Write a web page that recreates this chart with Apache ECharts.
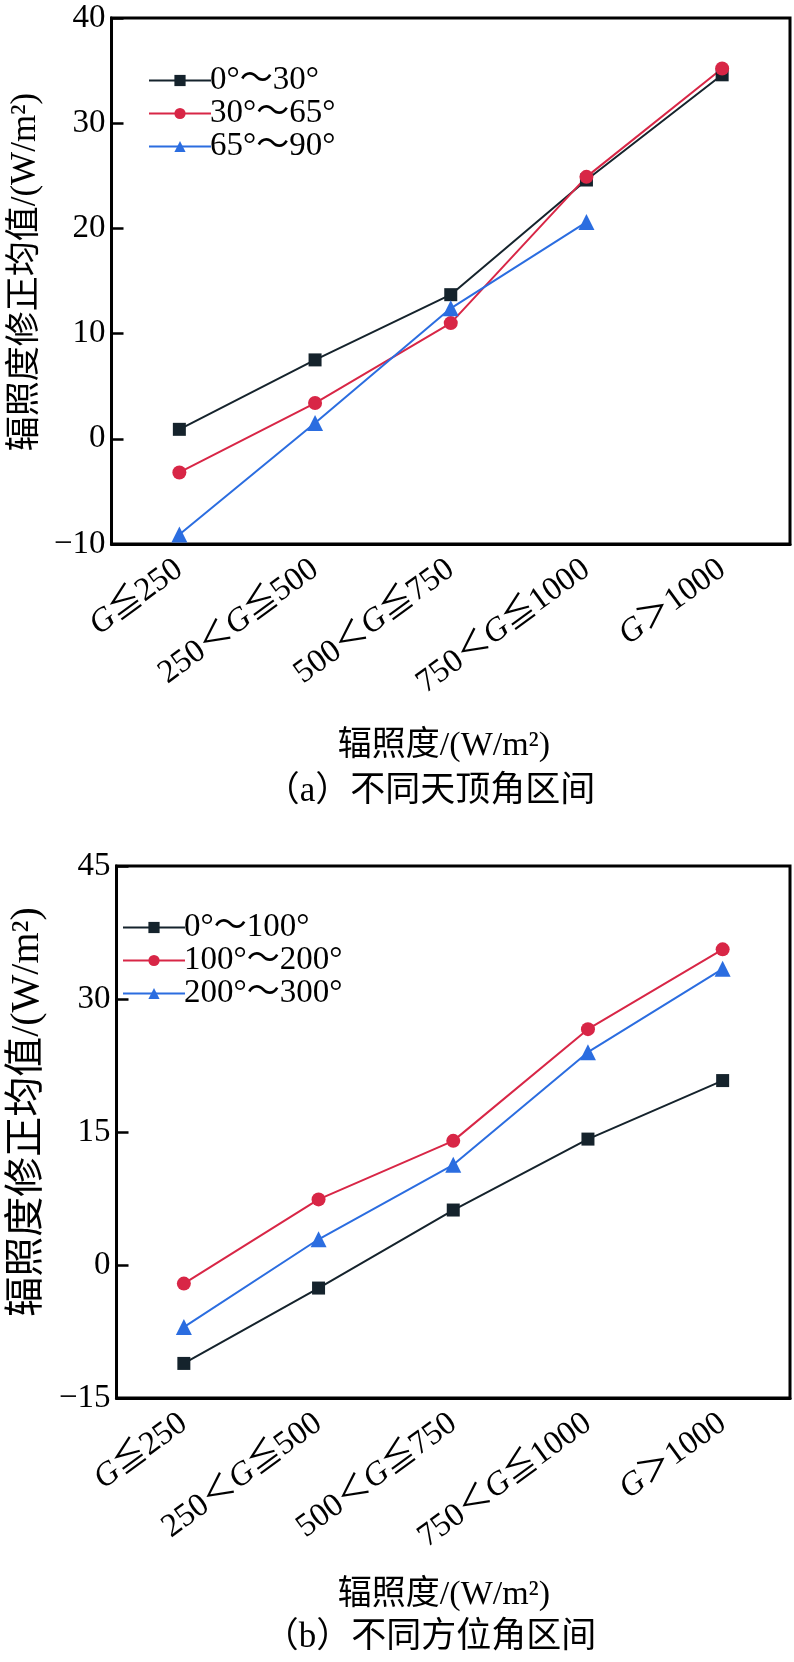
<!DOCTYPE html>
<html>
<head>
<meta charset="utf-8">
<script src="https://cdn.jsdelivr.net/npm/echarts@6/dist/echarts.min.js"></script>
<style>
html,body{margin:0;padding:0;background:#fff;}
#chart{width:794px;height:1662px;}
</style>
</head>
<body>
<div id="chart"></div>
<script>
// Categories (irradiance bins)
const categories = ['{i|G}≦250', '250＜{i|G}≦500', '500＜{i|G}≦750', '750＜{i|G}≦1000', '{i|G}＞1000'];

// (a) zenith angle intervals
const zenithNames = ['0°～30°', '30°～65°', '65°～90°'];
const zenith0_30 = [0.9, 7.5, 13.7, 24.6, 34.6];
const zenith30_65 = [-3.2, 3.4, 11.0, 24.9, 35.2];
const zenith65_90 = [-9.1, 1.5, 12.4, 20.6, null];

// (b) azimuth angle intervals
const azimuthNames = ['0°～100°', '100°～200°', '200°～300°'];
const azimuth0_100 = [-11.1, -2.6, 6.2, 14.2, 20.8];
const azimuth100_200 = [-2.1, 7.4, 14.0, 26.6, 35.6];
const azimuth200_300 = [-7.0, 2.9, 11.3, 24.0, 33.4];

// Axis ticks
const yTicksA = [-10, 0, 10, 20, 30, 40];
const yTicksB = [-15, 0, 15, 30, 45];

const xName = '辐照度/(W/m²)';
const yName = '辐照度修正均值/(W/m²)';
const captionA = '（a）不同天顶角区间';
const captionB = '（b）不同方位角区间';

const FONT = "'Liberation Serif', 'Times New Roman', 'Noto Sans CJK SC', serif";
const COLORS = ['#15232c', '#d82646', '#2b6de0'];
const SYMBOLS = ['rect', 'circle', 'triangle'];
const SYMSIZE = [13, 14, 16];

const chart = echarts.init(document.getElementById('chart'), null, {renderer: 'canvas'});

function xAxis(gridIndex) {
  return {
    type: 'category', gridIndex, data: categories, boundaryGap: true,
    axisLine: {onZero: false, lineStyle: {color: '#000', width: 3}},
    axisTick: {inside: true, alignWithLabel: true, length: 12, lineStyle: {color: '#000', width: 2.5}},
    axisLabel: {
      rotate: 36, margin: 22, interval: 0, hideOverlap: false,
      fontFamily: FONT, fontSize: 33, color: '#000',
      rich: {i: {fontStyle: 'italic', fontFamily: FONT, fontSize: 33, color: '#000'}}
    },
    splitLine: {show: false}
  };
}
function yAxis(gridIndex, ticks, shift, fs) {
  return {
    type: 'value', gridIndex,
    min: ticks[0], max: ticks[ticks.length - 1], interval: ticks[1] - ticks[0],
    name: yName, nameLocation: 'middle', nameGap: 62, nameRotate: 90,
    nameTextStyle: {fontFamily: FONT, fontSize: fs, color: '#000', padding: [0, 0, 0, shift]},
    axisLine: {show: true, onZero: false, lineStyle: {color: '#000', width: 3}},
    axisTick: {show: true, inside: true, length: 12, lineStyle: {color: '#000', width: 2.5}},
    axisLabel: {
      margin: 6, fontFamily: FONT, fontSize: 33, color: '#000',
      formatter: v => (v < 0 ? '−' + Math.abs(v) : String(v))
    },
    splitLine: {show: false}
  };
}
function series(name, data, idx, axisIdx) {
  return {
    name, type: 'line', data, xAxisIndex: axisIdx, yAxisIndex: axisIdx,
    symbol: SYMBOLS[idx], symbolSize: SYMSIZE[idx], showAllSymbol: true,
    connectNulls: false,
    lineStyle: {color: COLORS[idx], width: 2},
    itemStyle: {color: COLORS[idx]},
    animation: false
  };
}
function label(text, x, y, size) {
  return {
    type: 'text', x, y, silent: true,
    style: {text, fill: '#000', font: size + 'px ' + FONT, textAlign: 'center', textVerticalAlign: 'middle'}
  };
}

const option = {
  backgroundColor: '#fff',
  animation: false,
  grid: [
    {left: 103, top: 18, width: 687, height: 526, show: true, borderColor: '#000', borderWidth: 3, containLabel: false},
    {left: 103, top: 866, width: 687, height: 532, show: true, borderColor: '#000', borderWidth: 3, containLabel: false}
  ],
  graphic: [
    label(xName, 444, 746, 34),
    label(captionA, 430, 792, 35),
    label(xName, 444, 1595, 34),
    label(captionB, 430, 1638, 35)
  ],
  legend: [
    {data: zenithNames, orient: 'vertical', left: 143, top: 59, itemWidth: 62, itemHeight: 14, itemGap: 0,
     textStyle: {fontFamily: FONT, fontSize: 33, color: '#000', lineHeight: 29, padding: [0, 0, 0, -6]}},
    {data: azimuthNames, orient: 'vertical', left: 117, top: 906, itemWidth: 62, itemHeight: 14, itemGap: 0,
     textStyle: {fontFamily: FONT, fontSize: 33, color: '#000', lineHeight: 28, padding: [0, 0, 0, -6]}}
  ],
  xAxis: [xAxis(0), xAxis(1)],
  yAxis: [yAxis(0, yTicksA, 18, 35), yAxis(1, yTicksB, 40, 40)],
  series: [
    series(zenithNames[0], zenith0_30, 0, 0),
    series(zenithNames[1], zenith30_65, 1, 0),
    series(zenithNames[2], zenith65_90, 2, 0),
    series(azimuthNames[0], azimuth0_100, 0, 1),
    series(azimuthNames[1], azimuth100_200, 1, 1),
    series(azimuthNames[2], azimuth200_300, 2, 1)
  ]
};
chart.setOption(option);
</script>
</body>
</html>
